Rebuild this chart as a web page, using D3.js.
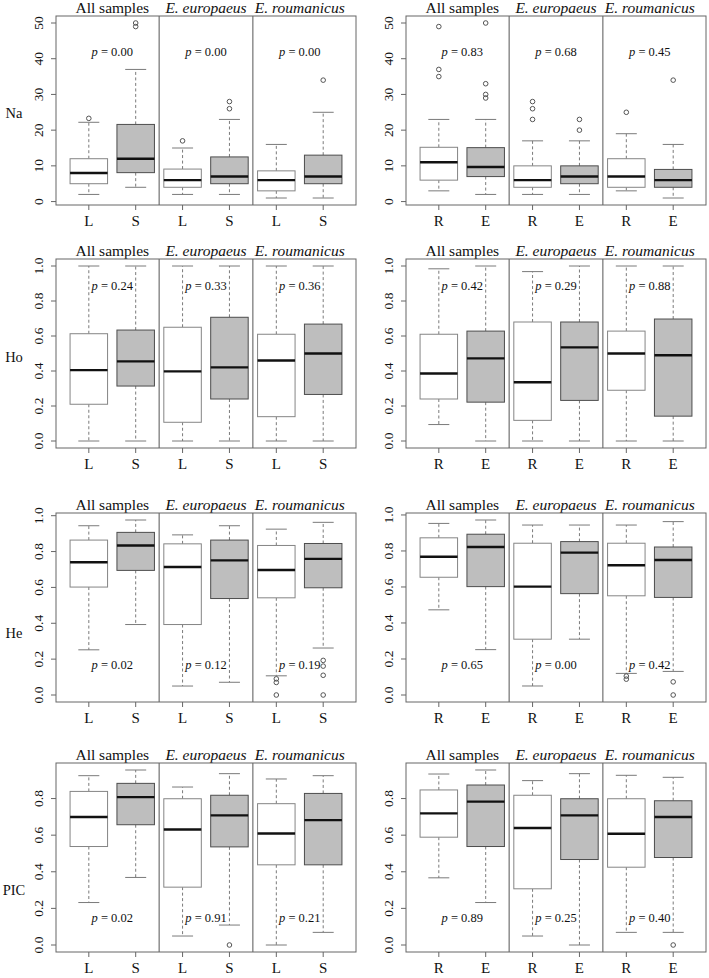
<!DOCTYPE html>
<html>
<head>
<meta charset="utf-8">
<script src="https://cdn.jsdelivr.net/npm/d3@7"></script>
<style>
  body { margin: 0; background: #fff; }
  svg text { font-family: "Liberation Serif", "DejaVu Serif", "Times New Roman", serif; fill: #111; }
</style>
</head>
<body>
<svg id="chart"></svg>
<script>
const groups = ["All samples", "E. europaeus", "E. roumanicus"];
const catsLS = ["L", "S", "L", "S", "L", "S"];
const catsRE = ["R", "E", "R", "E", "R", "E"];
const variables = ["Na", "Ho", "He", "PIC"];

// each box: [lower whisker, Q1, median, Q3, upper whisker]
const naLS = [[2, 5, 8, 12, 22.2], [4, 8.1, 12, 21.6, 37], [2, 4, 6, 9.1, 15], [2, 5, 7, 12.5, 23], [1, 3, 6, 8.6, 16], [1, 5, 7, 13, 25]];
const naLSOut = [[23.3], [49, 50], [17], [26, 28], [], [34]];
const naRE = [[3, 6, 11, 15.2, 23], [2, 7, 9.7, 15.1, 23], [2, 4, 6, 10, 17], [2, 5, 7, 10, 17], [3, 4, 7, 12, 19], [1, 4, 6, 9, 16]];
const naREOut = [[35, 37, 49], [29, 30, 33, 50], [23, 26, 28], [20, 23], [25], [34]];

const hoLS = [[0, 0.21, 0.405, 0.613, 1], [0, 0.314, 0.455, 0.634, 1], [0, 0.107, 0.398, 0.65, 1], [0, 0.24, 0.421, 0.707, 1], [0, 0.139, 0.46, 0.61, 1], [0, 0.266, 0.5, 0.668, 1]];
const hoLSOut = [[], [], [], [], [], []];
const hoRE = [[0.094, 0.24, 0.386, 0.61, 0.984], [0, 0.222, 0.472, 0.628, 1], [0, 0.118, 0.336, 0.68, 0.968], [0, 0.232, 0.535, 0.68, 1], [0, 0.29, 0.5, 0.628, 1], [0, 0.142, 0.49, 0.697, 1]];
const hoREOut = [[], [], [], [], [], []];

const heLS = [[0.252, 0.602, 0.74, 0.864, 0.944], [0.393, 0.695, 0.834, 0.907, 0.976], [0.05, 0.393, 0.714, 0.843, 0.893], [0.071, 0.538, 0.751, 0.864, 0.944], [0.107, 0.542, 0.697, 0.834, 0.925], [0.262, 0.598, 0.759, 0.845, 0.963]];
const heLSOut = [[], [], [], [], [0, 0.07, 0.09], [0, 0.11, 0.161, 0.193]];
const heRE = [[0.473, 0.654, 0.768, 0.873, 0.953], [0.252, 0.602, 0.822, 0.893, 0.972], [0.05, 0.31, 0.602, 0.843, 0.944], [0.31, 0.563, 0.791, 0.852, 0.944], [0.12, 0.551, 0.721, 0.843, 0.944], [0.131, 0.542, 0.75, 0.822, 0.963]];
const heREOut = [[], [], [], [], [0.088, 0.105], [0, 0.073]];

const picLS = [[0.232, 0.538, 0.699, 0.839, 0.925], [0.369, 0.657, 0.808, 0.883, 0.956], [0.049, 0.316, 0.631, 0.799, 0.863], [0.109, 0.536, 0.708, 0.818, 0.936], [0, 0.438, 0.609, 0.772, 0.907], [0.069, 0.438, 0.682, 0.828, 0.925]];
const picLSOut = [[], [], [], [0], [], []];
const picRE = [[0.367, 0.589, 0.719, 0.847, 0.934], [0.232, 0.538, 0.783, 0.874, 0.956], [0.049, 0.307, 0.639, 0.818, 0.898], [0, 0.467, 0.708, 0.799, 0.936], [0.069, 0.425, 0.608, 0.799, 0.927], [0.069, 0.478, 0.699, 0.788, 0.916]];
const picREOut = [[], [], [], [], [], [0]];

const pNaLS = ["0.00", "0.00", "0.00"], pNaRE = ["0.83", "0.68", "0.45"];
const pHoLS = ["0.24", "0.33", "0.36"], pHoRE = ["0.42", "0.29", "0.88"];
const pHeLS = ["0.02", "0.12", "0.19"], pHeRE = ["0.65", "0.00", "0.42"];
const pPicLS = ["0.02", "0.91", "0.21"], pPicRE = ["0.89", "0.25", "0.40"];

const panels = [
  [naLS, naLSOut, pNaLS, catsLS], [naRE, naREOut, pNaRE, catsRE],
  [hoLS, hoLSOut, pHoLS, catsLS], [hoRE, hoREOut, pHoRE, catsRE],
  [heLS, heLSOut, pHeLS, catsLS], [heRE, heREOut, pHeRE, catsRE],
  [picLS, picLSOut, pPicLS, catsLS], [picRE, picREOut, pPicRE, catsRE]
];

// layout
const W = 709, H = 978;
const colLeft = [56, 406], panelW = 300, panelH = 189;
const rowTop = [16, 259, 513, 763];
const labelY = [113, 357, 633, 890];
const pY = [42, 0.89, 0.17, 0.148];
const boxW = 0.8;

const svg = d3.select("#chart").attr("width", W).attr("height", H);

variables.forEach((v, r) => {
  svg.append("text").attr("x", 14).attr("y", labelY[r]).attr("dy", "0.35em")
    .attr("text-anchor", "middle").style("font-size", "14.5px").text(v);
});

panels.forEach((pn, i) => {
  const [stats, outs, pv, cats] = pn;
  const r = Math.floor(i / 2), c = i % 2;
  const left = colLeft[c], top = rowTop[r];
  const g = svg.append("g");

  const x = d3.scaleLinear().domain([0.3, 6.7]).range([left, left + panelW]);
  const all = stats.flat().concat(outs.flat());
  const lo = d3.min(all), hi = d3.max(all), pad = (hi - lo) * 0.04;
  const y = d3.scaleLinear().domain([lo - pad, hi + pad]).range([top + panelH, top]);

  // y axis
  const ticks = y.ticks(5);
  const fmt = r === 0 ? d3.format("d") : d3.format(".1f");
  ticks.forEach(t => {
    g.append("line").attr("x1", left - 5).attr("x2", left).attr("y1", y(t)).attr("y2", y(t))
      .attr("stroke", "#666");
    g.append("text").attr("transform", `translate(${left - 13},${y(t)}) rotate(-90)`)
      .attr("text-anchor", "middle").style("font-size", "13.5px").text(fmt(t));
  });

  // x ticks + labels
  cats.forEach((k, j) => {
    const cx = x(j + 1);
    g.append("line").attr("x1", cx).attr("x2", cx).attr("y1", top + panelH).attr("y2", top + panelH + 5)
      .attr("stroke", "#666");
    g.append("text").attr("x", cx).attr("y", top + panelH + 21).attr("text-anchor", "middle")
      .style("font-size", "15px").text(k);
  });

  // group titles, dividers, p values
  groups.forEach((gr, j) => {
    const gx = x(2 * j + 1.5);
    g.append("text").attr("x", gx).attr("y", top - 3).attr("text-anchor", "middle")
      .style("font-size", "15.5px").style("font-style", j === 0 ? "normal" : "italic").text(gr);
    const pt = g.append("text").attr("x", gx).attr("y", y(pY[r])).attr("dy", "0.35em")
      .attr("text-anchor", "middle").style("font-size", "12.5px");
    pt.append("tspan").style("font-style", "italic").text("p");
    pt.append("tspan").text(" = " + pv[j]);
    if (j > 0) {
      g.append("line").attr("x1", x(2 * j + 0.5)).attr("x2", x(2 * j + 0.5))
        .attr("y1", top).attr("y2", top + panelH).attr("stroke", "#555");
    }
  });

  // boxes
  stats.forEach((s, j) => {
    const [wl, q1, md, q3, wh] = s;
    const cx = x(j + 1);
    const hw = (x(boxW) - x(0)) / 2;
    const grey = j % 2 === 1;
    const edge = grey ? "#4d4d4d" : "#858585";
    const wcol = "#7a7a7a";
    g.append("line").attr("x1", cx).attr("x2", cx).attr("y1", y(q3)).attr("y2", y(wh))
      .attr("stroke", wcol).attr("stroke-dasharray", "3,2.5");
    g.append("line").attr("x1", cx).attr("x2", cx).attr("y1", y(q1)).attr("y2", y(wl))
      .attr("stroke", wcol).attr("stroke-dasharray", "3,2.5");
    [wl, wh].forEach(w => {
      g.append("line").attr("x1", cx - hw * 0.56).attr("x2", cx + hw * 0.56).attr("y1", y(w)).attr("y2", y(w))
        .attr("stroke", wcol);
    });
    g.append("rect").attr("x", cx - hw).attr("width", 2 * hw).attr("y", y(q3)).attr("height", y(q1) - y(q3))
      .attr("fill", grey ? "#bebebe" : "#fff").attr("stroke", edge);
    g.append("line").attr("x1", cx - hw).attr("x2", cx + hw).attr("y1", y(md)).attr("y2", y(md))
      .attr("stroke", "#111").attr("stroke-width", 2.4);
    outs[j].forEach(o => {
      g.append("circle").attr("cx", cx).attr("cy", y(o)).attr("r", 2.3)
        .attr("fill", "none").attr("stroke", "#555");
    });
  });

  // frame
  g.append("rect").attr("x", left).attr("y", top).attr("width", panelW).attr("height", panelH)
    .attr("fill", "none").attr("stroke", "#666");
});
</script>
</body>
</html>
